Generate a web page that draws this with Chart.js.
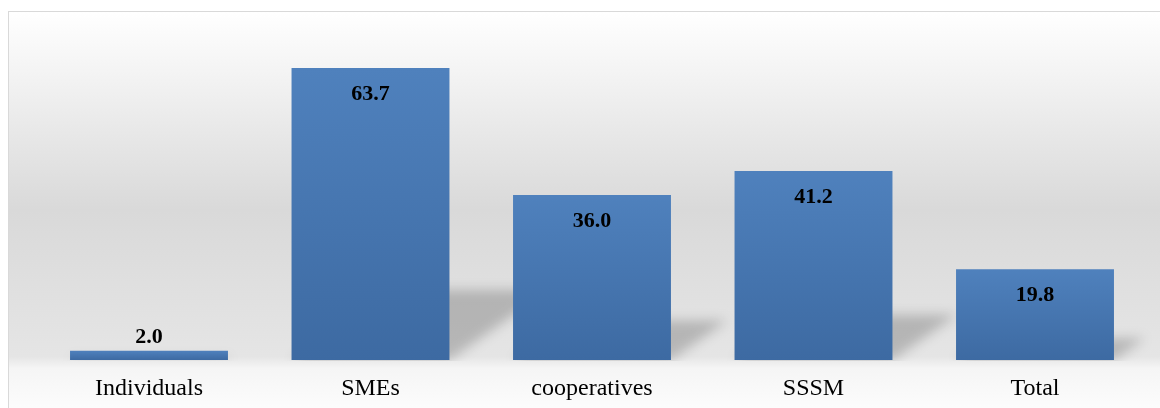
<!DOCTYPE html>
<html lang="en">
<head>
    <meta charset="UTF-8">
    <title>Bar Chart</title>
    <script src="https://cdn.jsdelivr.net/npm/chart.js"></script>
    <style>
        html, body { margin: 0; padding: 0; background: #ffffff; overflow: hidden; }
        #wrap {
            position: absolute;
            left: 8px;
            top: 11px;
            width: 1151px;
            height: 396px;
            border: 1px solid #d9d9d9;
        }
    </style>
</head>
<body>
    <div id="wrap">
        <canvas id="barChart" width="1151" height="396"></canvas>
    </div>

    <script>
        // Chart data
        const categories = ['Individuals', 'SMEs', 'cooperatives', 'SSSM', 'Total'];
        const values = [2.0, 63.7, 36.0, 41.2, 19.8];

        const serif = "'Liberation Serif', 'Times New Roman', serif";

        // Grey gradient behind everything
        const backgroundPlugin = {
            id: 'background',
            beforeDraw(chart) {
                const ctx = chart.ctx;
                const h = chart.height;
                const g = ctx.createLinearGradient(0, 0, 0, h);
                g.addColorStop(0, '#ffffff');
                g.addColorStop(0.12, '#f6f6f6');
                g.addColorStop(0.5, '#d9d9d9');
                g.addColorStop(0.87, '#e5e5e5');
                g.addColorStop(0.9, '#f5f5f5');
                g.addColorStop(1, '#fcfcfc');
                ctx.save();
                ctx.fillStyle = g;
                ctx.fillRect(0, 0, chart.width, h);
                ctx.restore();
            }
        };

        // Soft perspective shadow falling back to the right of each bar
        const shadowPlugin = {
            id: 'barShadow',
            beforeDatasetsDraw(chart) {
                const ctx = chart.ctx;
                const meta = chart.getDatasetMeta(0);
                meta.data.forEach(bar => {
                    const left = bar.x - bar.width / 2;
                    const right = bar.x + bar.width / 2;
                    const h = bar.base - bar.y;
                    const dy = h * 0.24;
                    const dx = h * 0.34;
                    ctx.save();
                    ctx.beginPath();
                    ctx.rect(0, 0, chart.width, bar.base + 1);
                    ctx.clip();
                    ctx.filter = 'blur(6px)';
                    ctx.fillStyle = 'rgba(0, 0, 0, 0.2)';
                    ctx.beginPath();
                    ctx.moveTo(left, bar.base);
                    ctx.lineTo(right, bar.base);
                    ctx.lineTo(right + dx, bar.base - dy);
                    ctx.lineTo(left + dx, bar.base - dy);
                    ctx.closePath();
                    ctx.fill();
                    ctx.restore();
                });
            }
        };

        // Value labels: inside the top of tall bars, above short ones
        const valueLabelPlugin = {
            id: 'valueLabels',
            afterDatasetsDraw(chart) {
                const ctx = chart.ctx;
                const meta = chart.getDatasetMeta(0);
                ctx.save();
                ctx.font = 'bold 22px ' + serif;
                ctx.fillStyle = '#000000';
                ctx.textAlign = 'center';
                ctx.textBaseline = 'middle';
                meta.data.forEach((bar, i) => {
                    const h = bar.base - bar.y;
                    const y = h > 40 ? bar.y + 26 : bar.y - 14;
                    ctx.fillText(values[i].toFixed(1), bar.x, y);
                });
                ctx.restore();
            }
        };

        function barGradient(context) {
            const chart = context.chart;
            if (!chart.chartArea || context.type !== 'data') {
                return '#4a7ab5';
            }
            const yScale = chart.scales.y;
            const top = yScale.getPixelForValue(context.parsed.y);
            const base = yScale.getPixelForValue(0);
            if (!isFinite(top) || !isFinite(base) || base - top < 1) {
                return '#4a7ab5';
            }
            const g = chart.ctx.createLinearGradient(0, top, 0, base);
            g.addColorStop(0, '#4f81bd');
            g.addColorStop(1, '#3d6aa2');
            return g;
        }

        const ctx = document.getElementById('barChart').getContext('2d');
        const barChart = new Chart(ctx, {
            type: 'bar',
            data: {
                labels: categories,
                datasets: [
                    {
                        data: values,
                        backgroundColor: barGradient,
                        borderWidth: 0,
                        categoryPercentage: 0.713,
                        barPercentage: 1.0
                    }
                ]
            },
            options: {
                responsive: false,
                animation: false,
                layout: {
                    padding: { left: 29.25, right: 14.25, top: 27, bottom: 0 }
                },
                plugins: {
                    legend: { display: false },
                    tooltip: { enabled: false }
                },
                scales: {
                    x: {
                        grid: { display: false, drawTicks: false },
                        border: { display: false },
                        ticks: {
                            color: '#000000',
                            padding: 14,
                            font: { family: serif, size: 24 }
                        },
                        afterFit(scale) {
                            scale.height = 48;
                        }
                    },
                    y: {
                        display: false,
                        min: 0,
                        max: 70
                    }
                }
            },
            plugins: [backgroundPlugin, shadowPlugin, valueLabelPlugin]
        });
    </script>
</body>
</html>
